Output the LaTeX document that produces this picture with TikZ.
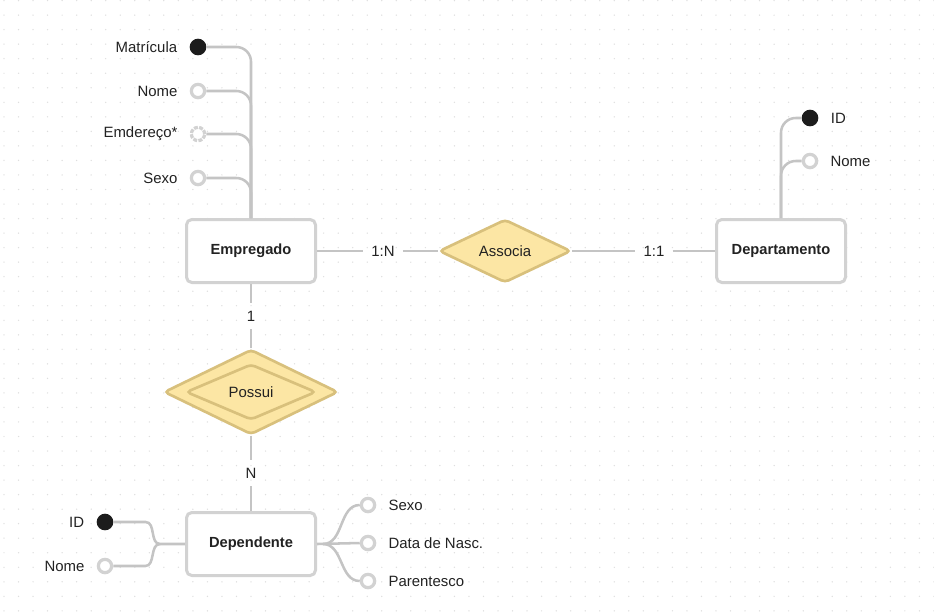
\documentclass[tikz,border=0pt]{standalone}
\usepackage{fontspec}
\setmainfont{Liberation Sans}
\usetikzlibrary{shapes.geometric,positioning}

\definecolor{linegray}{HTML}{C4C4C4}
\definecolor{boxgray}{HTML}{D2D2D2}
\definecolor{dotgray}{HTML}{DEDEDE}
\definecolor{relfill}{HTML}{FCE6A4}
\definecolor{reldraw}{HTML}{D8C07C}
\definecolor{keyfill}{HTML}{1C1C1C}
\definecolor{txtdark}{HTML}{222222}

\begin{document}
\begin{tikzpicture}[
  x=0.75pt, y=-0.75pt,
  font=\fontsize{11.2}{13}\selectfont, text=txtdark,
  entity/.style={rectangle, rounded corners=4pt, draw=boxgray, line width=2.25pt, fill=white, minimum width=96.75pt, minimum height=47.25pt, font=\fontsize{11}{13}\selectfont\bfseries},
  relation/.style={diamond, draw=reldraw, line width=2pt, fill=relfill, rounded corners=3pt, inner sep=0pt},
  card/.style={inner sep=6pt},
  attr/.style={circle, draw=boxgray, line width=2.4pt, fill=white, minimum size=10pt, inner sep=0pt},
  optattr/.style={attr, dash pattern=on 3pt off 0.95pt},
  keyattr/.style={circle, fill=keyfill, minimum size=12.5pt, inner sep=0pt},
  attrtxt/.style={inner sep=0pt},
  link/.style={draw=linegray, line width=1.9pt}
]
\useasboundingbox (0,0) rectangle (934,615);
\fill[white] (0,0) rectangle (934,615);

% dot grid
\foreach \i in {0,...,64} {
  \foreach \j in {0,...,42} {
    \fill[dotgray] (4+14.53*\i, 0.6+14.53*\j) circle (0.55pt);
  }
}

% Entities
\node[entity] (empregado) at (251,251) {Empregado};
\node[entity] (departamento) at (781,251) {Departamento};
\node[entity] (dependente) at (251,544) {Dependente};

% Relationships
\node[relation, minimum width=99pt, minimum height=47.25pt] (associa) at (505,251) {Associa};
\node[relation, minimum width=130.5pt, minimum height=63.75pt] (possui) at (251,392) {};
\node[relation, minimum width=97.5pt, minimum height=39pt] (possuiin) at (251,392) {Possui};

% Cardinalities
\node[card] (c1n) at (383,251) {1:N};
\node[card] (c11) at (654,251) {1:1};
\node[card] (c1) at (251,316) {1};
\node[card] (cn) at (251,473) {N};

% Attributes of Empregado
\node[keyattr] (ematricula) at (198,47) {};
\node[attr] (enome) at (198,91) {};
\node[optattr] (eendereco) at (198,134) {};
\node[attr] (esexo) at (198,178) {};
\node[attrtxt, left=9pt of ematricula] (tematricula) {Matrícula};
\node[attrtxt, left=9pt of enome] (tenome) {Nome};
\node[attrtxt, left=9pt of eendereco] (teendereco) {Emdereço*};
\node[attrtxt, left=9pt of esexo] (tesexo) {Sexo};

% Attributes of Departamento
\node[keyattr] (did) at (810,118) {};
\node[attr] (dnome) at (810,161) {};
\node[attrtxt, right=9pt of did] (tdid) {ID};
\node[attrtxt, right=9pt of dnome] (tdnome) {Nome};

% Attributes of Dependente
\node[keyattr] (pid) at (105,522) {};
\node[attr] (pnome) at (105,566) {};
\node[attr] (psexo) at (368,505) {};
\node[attr] (pdata) at (368,543) {};
\node[attr] (pparentesco) at (368,581) {};
\node[attrtxt, left=9pt of pid] (tpid) {ID};
\node[attrtxt, left=9pt of pnome] (tpnome) {Nome};
\node[attrtxt, right=9pt of psexo] (tpsexo) {Sexo};
\node[attrtxt, right=9pt of pdata] (tpdata) {Data de Nasc.};
\node[attrtxt, right=9pt of pparentesco] (tpparentesco) {Parentesco};

\coordinate (pjoinl) at (160,544);
\coordinate (pjoinr) at (323,544);

% Connect relationships
\draw[link] (empregado) -- (c1n) -- (associa);
\draw[link] (associa) -- (c11) -- (departamento);
\draw[link] (empregado) -- (c1) -- (possui);
\draw[link] (possui) -- (cn) -- (dependente);

% Connect attributes
\foreach \a in {ematricula,enome,eendereco,esexo}
  \draw[link, rounded corners=11pt] (\a.east) -| (empregado.north);
\draw[link, rounded corners=11pt] (departamento.north) |- (did.west);
\draw[link, rounded corners=11pt] (dnome.west) -| (departamento.north);
\draw[link] (pid.east) -- ++(32,0) to[out=0,in=180] (pjoinl) -- (dependente.west);
\draw[link] (pnome.east) -- ++(32,0) to[out=0,in=180] (pjoinl);
\draw[link] (dependente.east) -- (pdata.west);
\draw[link] (pjoinr) to[out=0,in=180] (psexo.west);
\draw[link] (pjoinr) to[out=0,in=180] (pparentesco.west);

\end{tikzpicture}
\end{document}
